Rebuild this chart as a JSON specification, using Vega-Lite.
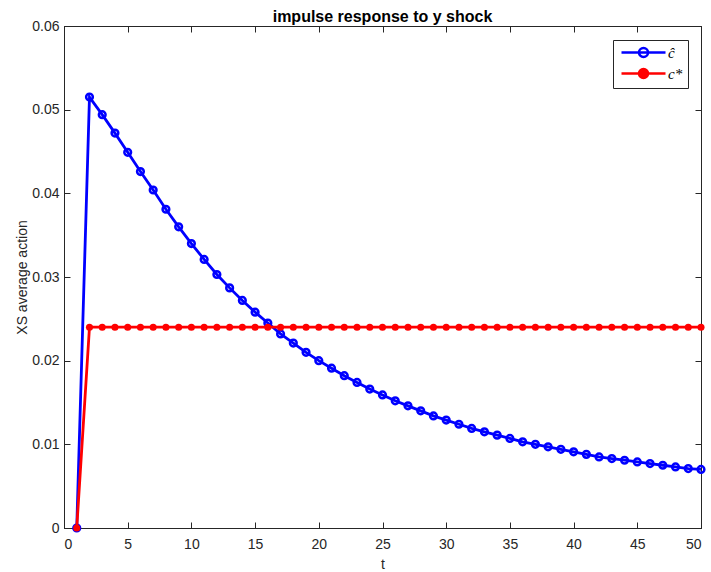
{
  "$schema": "https://vega.github.io/schema/vega-lite/v6.json",
  "width": 637,
  "height": 502,
  "autosize": {"type": "none"},
  "padding": {"left": 64, "top": 26, "right": 10, "bottom": 44},
  "background": "white",
  "title": {"text": "impulse response to y shock", "font": "Liberation Sans", "fontSize": 16, "fontWeight": "bold", "color": "#000000", "baseline": "top", "offset": 4, "dy": 10},
  "config": {
    "view": {"stroke": "#262626", "strokeWidth": 1},
    "axis": {"grid": false, "labelFont": "Liberation Sans", "labelFontSize": 14, "labelColor": "#262626", "titleFont": "Liberation Sans", "titleFontSize": 14, "titleFontWeight": "normal", "titleColor": "#262626", "domainColor": "#262626", "tickColor": "#262626", "tickSize": -6, "domainWidth": 1}
  },
  "data": {"values": [
    {"t":1,"s":"ĉ","v":0},{"t":2,"s":"ĉ","v":0.0515},{"t":3,"s":"ĉ","v":0.0494},{"t":4,"s":"ĉ","v":0.0472},{"t":5,"s":"ĉ","v":0.0449},{"t":6,"s":"ĉ","v":0.0426},{"t":7,"s":"ĉ","v":0.0404},{"t":8,"s":"ĉ","v":0.0381},{"t":9,"s":"ĉ","v":0.0360},{"t":10,"s":"ĉ","v":0.0340},{"t":11,"s":"ĉ","v":0.0321},{"t":12,"s":"ĉ","v":0.0303},{"t":13,"s":"ĉ","v":0.0287},{"t":14,"s":"ĉ","v":0.0272},{"t":15,"s":"ĉ","v":0.0258},{"t":16,"s":"ĉ","v":0.0245},{"t":17,"s":"ĉ","v":0.0232},{"t":18,"s":"ĉ","v":0.0221},{"t":19,"s":"ĉ","v":0.0210},{"t":20,"s":"ĉ","v":0.0200},{"t":21,"s":"ĉ","v":0.0191},{"t":22,"s":"ĉ","v":0.0182},{"t":23,"s":"ĉ","v":0.0174},{"t":24,"s":"ĉ","v":0.0166},{"t":25,"s":"ĉ","v":0.0159},{"t":26,"s":"ĉ","v":0.0152},{"t":27,"s":"ĉ","v":0.0146},{"t":28,"s":"ĉ","v":0.0140},{"t":29,"s":"ĉ","v":0.0134},{"t":30,"s":"ĉ","v":0.0129},{"t":31,"s":"ĉ","v":0.0124},{"t":32,"s":"ĉ","v":0.0119},{"t":33,"s":"ĉ","v":0.0115},{"t":34,"s":"ĉ","v":0.0111},{"t":35,"s":"ĉ","v":0.0107},{"t":36,"s":"ĉ","v":0.0103},{"t":37,"s":"ĉ","v":0.0100},{"t":38,"s":"ĉ","v":0.0097},{"t":39,"s":"ĉ","v":0.0094},{"t":40,"s":"ĉ","v":0.0091},{"t":41,"s":"ĉ","v":0.0088},{"t":42,"s":"ĉ","v":0.0085},{"t":43,"s":"ĉ","v":0.0083},{"t":44,"s":"ĉ","v":0.0081},{"t":45,"s":"ĉ","v":0.0079},{"t":46,"s":"ĉ","v":0.0077},{"t":47,"s":"ĉ","v":0.0075},{"t":48,"s":"ĉ","v":0.0073},{"t":49,"s":"ĉ","v":0.0071},{"t":50,"s":"ĉ","v":0.0070},
    {"t":1,"s":"c*","v":0},{"t":2,"s":"c*","v":0.024},{"t":3,"s":"c*","v":0.024},{"t":4,"s":"c*","v":0.024},{"t":5,"s":"c*","v":0.024},{"t":6,"s":"c*","v":0.024},{"t":7,"s":"c*","v":0.024},{"t":8,"s":"c*","v":0.024},{"t":9,"s":"c*","v":0.024},{"t":10,"s":"c*","v":0.024},{"t":11,"s":"c*","v":0.024},{"t":12,"s":"c*","v":0.024},{"t":13,"s":"c*","v":0.024},{"t":14,"s":"c*","v":0.024},{"t":15,"s":"c*","v":0.024},{"t":16,"s":"c*","v":0.024},{"t":17,"s":"c*","v":0.024},{"t":18,"s":"c*","v":0.024},{"t":19,"s":"c*","v":0.024},{"t":20,"s":"c*","v":0.024},{"t":21,"s":"c*","v":0.024},{"t":22,"s":"c*","v":0.024},{"t":23,"s":"c*","v":0.024},{"t":24,"s":"c*","v":0.024},{"t":25,"s":"c*","v":0.024},{"t":26,"s":"c*","v":0.024},{"t":27,"s":"c*","v":0.024},{"t":28,"s":"c*","v":0.024},{"t":29,"s":"c*","v":0.024},{"t":30,"s":"c*","v":0.024},{"t":31,"s":"c*","v":0.024},{"t":32,"s":"c*","v":0.024},{"t":33,"s":"c*","v":0.024},{"t":34,"s":"c*","v":0.024},{"t":35,"s":"c*","v":0.024},{"t":36,"s":"c*","v":0.024},{"t":37,"s":"c*","v":0.024},{"t":38,"s":"c*","v":0.024},{"t":39,"s":"c*","v":0.024},{"t":40,"s":"c*","v":0.024},{"t":41,"s":"c*","v":0.024},{"t":42,"s":"c*","v":0.024},{"t":43,"s":"c*","v":0.024},{"t":44,"s":"c*","v":0.024},{"t":45,"s":"c*","v":0.024},{"t":46,"s":"c*","v":0.024},{"t":47,"s":"c*","v":0.024},{"t":48,"s":"c*","v":0.024},{"t":49,"s":"c*","v":0.024},{"t":50,"s":"c*","v":0.024}
  ]},
  "layer": [
    {
      "transform": [{"filter": "datum.s === 'ĉ'"}],
      "mark": {"type": "line", "strokeWidth": 2.8, "clip": false},
      "encoding": {
        "x": {"field": "t", "type": "quantitative", "scale": {"domain": [0, 50], "nice": false}, "axis": {"values": [0,5,10,15,20,25,30,35,40,45,50], "title": "t", "titlePadding": 6, "labelPadding": 15}},
        "y": {"field": "v", "type": "quantitative", "scale": {"domain": [0, 0.06], "nice": false}, "axis": {"values": [0,0.01,0.02,0.03,0.04,0.05,0.06], "format": ".2~f", "title": "XS average action", "titlePadding": 2, "labelPadding": 11}},
        "color": {"field": "s", "type": "nominal", "scale": {"domain": ["ĉ", "c*"], "range": ["#0000ff", "#ff0000"]}, "legend": {
          "title": null, "orient": "none", "legendX": 549, "legendY": 14, "padding": 5, "strokeColor": "#262626", "fillColor": "white", "cornerRadius": 0,
          "symbolType": "M-0.8,0H8M4.5,0A0.9,0.9,0,1,1,2.7,0A0.9,0.9,0,1,1,4.5,0Z", "symbolSize": 100, "symbolStrokeWidth": 2.5,
          "labelFont": "Liberation Serif", "labelFontStyle": "italic", "labelFontSize": 15, "labelColor": "#000000", "rowPadding": 2, "labelOffset": 35,
          "labelExpr": "datum.label + '\u2002\u2009'",
          "encode": {"symbols": {"update": {"fill": {"signal": "datum.value === 'c*' ? '#ff0000' : 'transparent'"}, "stroke": {"signal": "datum.value === 'c*' ? '#ff0000' : '#0000ff'"}}}}
        }}
      }
    },
    {
      "transform": [{"filter": "datum.s === 'ĉ'"}],
      "mark": {"type": "point", "filled": false, "size": 45, "strokeWidth": 2.5, "color": "#0000ff", "opacity": 1, "clip": false},
      "encoding": {
        "x": {"field": "t", "type": "quantitative", "axis": null},
        "y": {"field": "v", "type": "quantitative", "axis": null}
      }
    },
    {
      "transform": [{"filter": "datum.s === 'c*'"}],
      "mark": {"type": "line", "strokeWidth": 2.8, "color": "#ff0000", "clip": false},
      "encoding": {
        "x": {"field": "t", "type": "quantitative", "axis": {"orient": "top", "values": [0,5,10,15,20,25,30,35,40,45,50], "labels": false, "title": null}},
        "y": {"field": "v", "type": "quantitative", "axis": {"orient": "right", "values": [0,0.01,0.02,0.03,0.04,0.05,0.06], "labels": false, "title": null}}
      }
    },
    {
      "transform": [{"filter": "datum.s === 'c*'"}],
      "mark": {"type": "circle", "size": 50, "color": "#ff0000", "opacity": 1, "clip": false},
      "encoding": {
        "x": {"field": "t", "type": "quantitative", "axis": null},
        "y": {"field": "v", "type": "quantitative", "axis": null}
      }
    }
  ],
  "resolve": {"axis": {"x": "independent", "y": "independent"}}
}
